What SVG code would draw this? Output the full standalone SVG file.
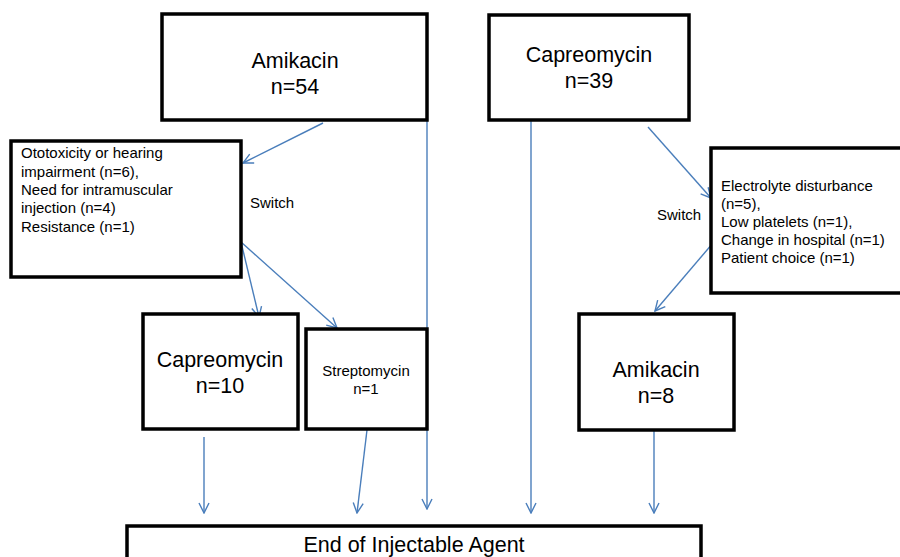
<svg xmlns="http://www.w3.org/2000/svg" width="900" height="557" viewBox="0 0 900 557">
<defs>
<marker id="ah" viewBox="0 0 12 12" refX="11" refY="6" markerWidth="12" markerHeight="12" markerUnits="userSpaceOnUse" orient="auto">
<path d="M1,1 L11,6 L1,11" fill="none" stroke="#4A7EBB" stroke-width="1.4"/>
</marker>
</defs>
<style>
.box{fill:#fff;stroke:#000;stroke-width:3.5}
.t{font-family:"Liberation Sans",Arial,sans-serif;fill:#000}
.big{font-size:21.5px;text-anchor:middle}
.sm{font-size:15px}
.c{fill:none;stroke:#4A7EBB;stroke-width:1.4;marker-end:url(#ah)}
</style>
<rect width="900" height="557" fill="#fff"/>
<g id="connectors">
<line class="c" x1="323" y1="123" x2="243" y2="163"/>
<line class="c" x1="427" y1="120" x2="427" y2="509"/>
<line class="c" x1="241" y1="242" x2="259" y2="317"/>
<line class="c" x1="241" y1="242" x2="337" y2="328"/>
<line class="c" x1="204" y1="437" x2="204" y2="513"/>
<line class="c" x1="367" y1="430" x2="357" y2="513"/>
<line class="c" x1="531" y1="120" x2="531" y2="513"/>
<line class="c" x1="648" y1="127" x2="711" y2="198"/>
<line class="c" x1="713" y1="243" x2="655" y2="311"/>
<line class="c" x1="654" y1="430" x2="654" y2="513"/>
</g>
<g id="amikacin54">
<rect class="box" x="162" y="14" width="265" height="106"/>
<text class="t big" x="295" y="68">Amikacin</text>
<text class="t big" x="295" y="94">n=54</text>
</g>
<g id="capreomycin39">
<rect class="box" x="489" y="15" width="200" height="105"/>
<text class="t big" x="589" y="62">Capreomycin</text>
<text class="t big" x="589" y="88">n=39</text>
</g>
<g id="reasonsLeft">
<rect class="box" x="11" y="141" width="230" height="136"/>
<text class="t sm" x="21" y="158">Ototoxicity or hearing</text>
<text class="t sm" x="21" y="177">impairment (n=6),</text>
<text class="t sm" x="21" y="195">Need for intramuscular</text>
<text class="t sm" x="21" y="213">injection (n=4)</text>
<text class="t sm" x="21" y="232">Resistance (n=1)</text>
</g>
<g id="switchLeft"><text class="t sm" x="250" y="208">Switch</text></g>
<g id="reasonsRight">
<rect class="box" x="711" y="148" width="192" height="145"/>
<text class="t sm" x="721" y="191">Electrolyte disturbance</text>
<text class="t sm" x="721" y="209">(n=5),</text>
<text class="t sm" x="721" y="227">Low platelets (n=1),</text>
<text class="t sm" x="721" y="245">Change in hospital (n=1)</text>
<text class="t sm" x="721" y="263">Patient choice (n=1)</text>
</g>
<g id="switchRight"><text class="t sm" x="657" y="220">Switch</text></g>
<g id="capreomycin10">
<rect class="box" x="143" y="314" width="155" height="115"/>
<text class="t big" x="220" y="367">Capreomycin</text>
<text class="t big" x="220" y="393">n=10</text>
</g>
<g id="streptomycin1">
<rect class="box" x="306" y="329" width="121" height="100"/>
<text class="t" x="366" y="376" font-size="15" text-anchor="middle">Streptomycin</text>
<text class="t" x="366" y="394" font-size="15" text-anchor="middle">n=1</text>
</g>
<g id="amikacin8">
<rect class="box" x="579" y="314" width="155" height="116"/>
<text class="t big" x="656" y="377">Amikacin</text>
<text class="t big" x="656" y="403">n=8</text>
</g>
<g id="endInjectable">
<rect class="box" x="127" y="526" width="574" height="40"/>
<text class="t" x="414" y="552" font-size="21.5" text-anchor="middle">End of Injectable Agent</text>
</g>
</svg>
